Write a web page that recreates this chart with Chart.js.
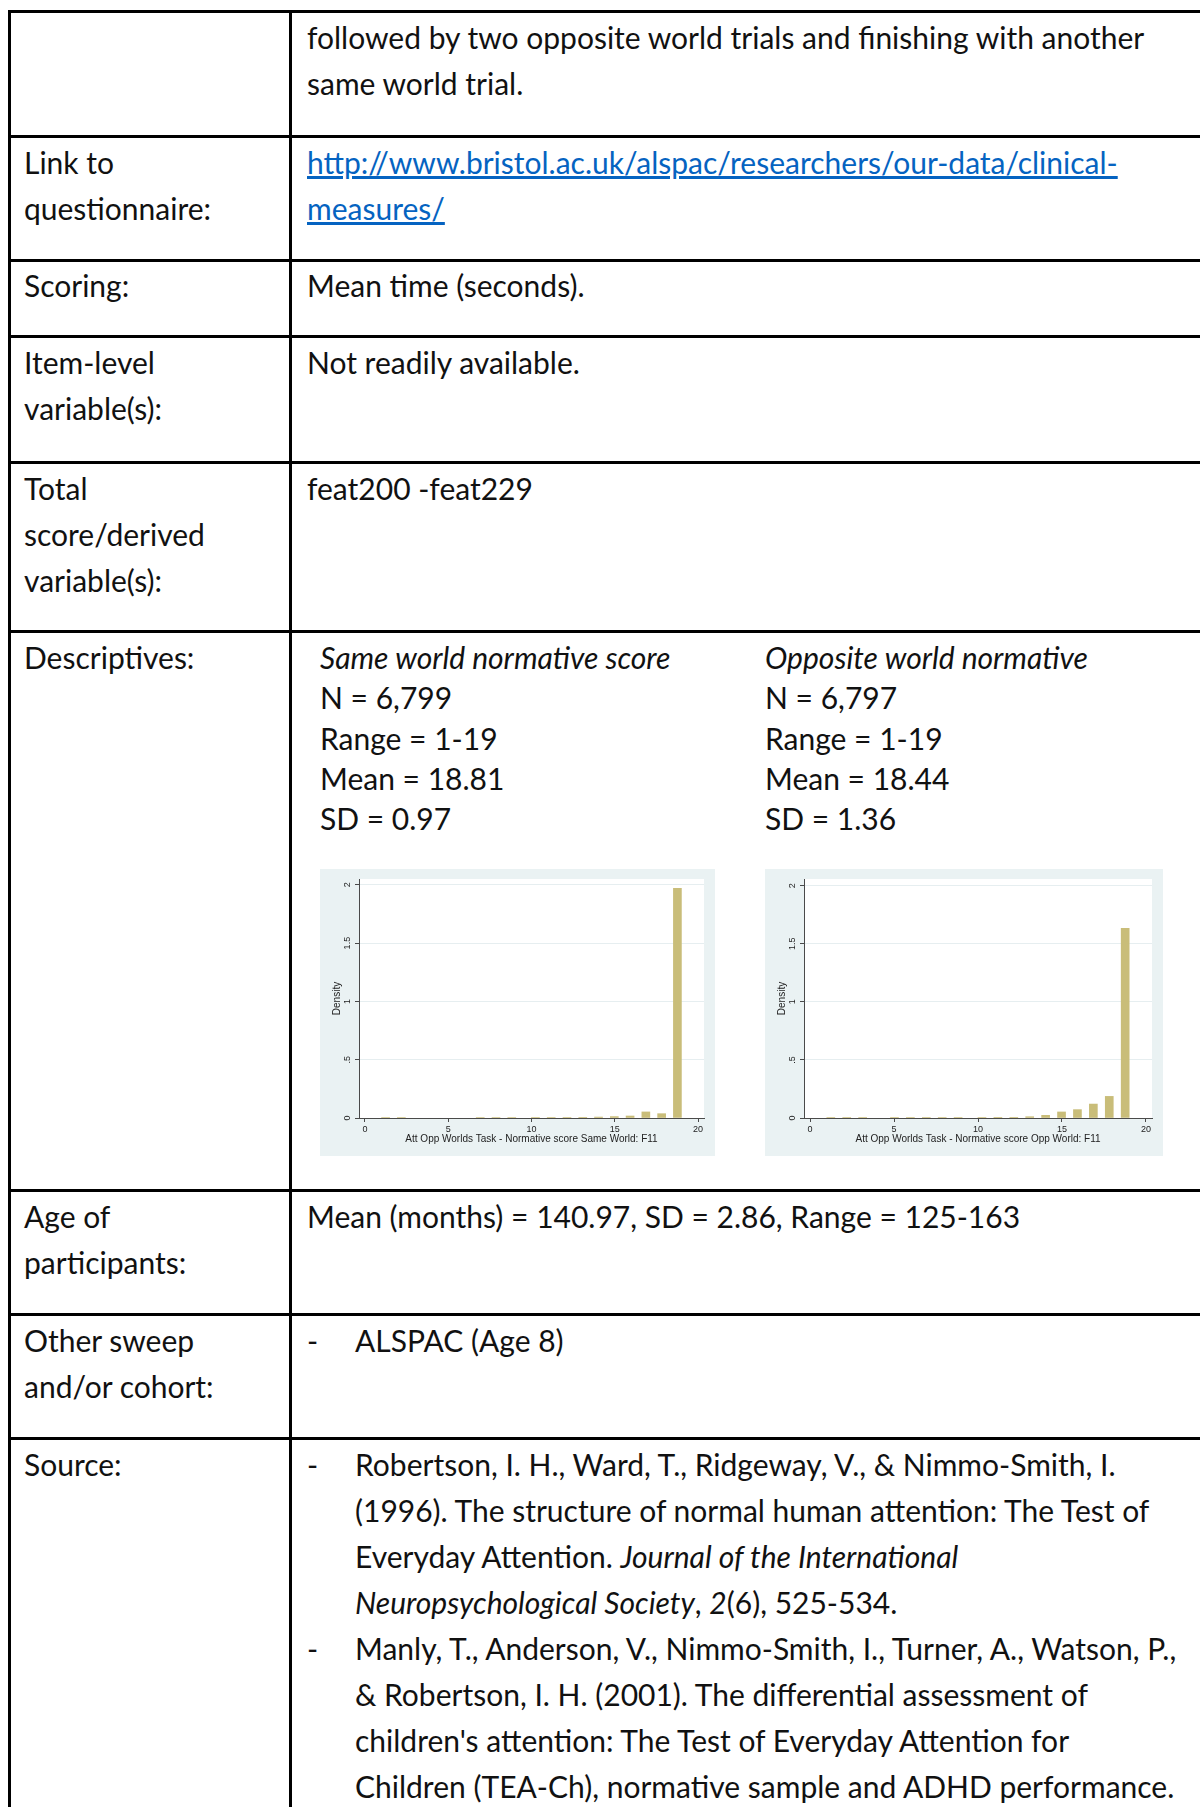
<!DOCTYPE html>
<html>
<head>
<meta charset="utf-8">
<script src="https://cdn.jsdelivr.net/npm/chart.js@4.4.1/dist/chart.umd.min.js"></script>
<style>
  html, body { margin: 0; padding: 0; background: #fff; }
  #page { position: relative; width: 1200px; height: 1807px; overflow: hidden; font-family: Lato, "Open Sans", sans-serif; font-size: 30px; color: #111; }
  .h { position: absolute; left: 8px; width: 1300px; height: 3px; background: #000; }
  .v { position: absolute; top: 10px; width: 3px; height: 1900px; background: #000; }
  .t { position: absolute; line-height: 46px; white-space: nowrap; }
  .l { left: 24px; }
  .r { left: 307px; }
  .d { position: absolute; line-height: 40.3px; white-space: nowrap; top: 637px; }
  a { color: #0563C1; text-decoration: underline; }
  .box { position: absolute; top: 869px; height: 287px; background: #eaf2f3; }
</style>
</head>
<body>
<div id="page">
  <div class="h" style="top:10px"></div>
  <div class="h" style="top:134.5px"></div>
  <div class="h" style="top:259px"></div>
  <div class="h" style="top:335px"></div>
  <div class="h" style="top:460.5px"></div>
  <div class="h" style="top:630px"></div>
  <div class="h" style="top:1189px"></div>
  <div class="h" style="top:1312.5px"></div>
  <div class="h" style="top:1437px"></div>
  <div class="v" style="left:8px"></div>
  <div class="v" style="left:289px"></div>

  <div class="t r" style="top:14px">followed by two opposite world trials and finishing with another<br>same world trial.</div>

  <div class="t l" style="top:138.5px">Link to<br>questionnaire:</div>
  <div class="t r" style="top:138.5px"><a>http://www.bristol.ac.uk/alspac/researchers/our-data/clinical-</a><br><a>measures/</a></div>

  <div class="t l" style="top:262px">Scoring:</div>
  <div class="t r" style="top:262px">Mean time (seconds).</div>

  <div class="t l" style="top:339px">Item-level<br>variable(s):</div>
  <div class="t r" style="top:339px">Not readily available.</div>

  <div class="t l" style="top:464.5px">Total<br>score/derived<br>variable(s):</div>
  <div class="t r" style="top:464.5px">feat200 -feat229</div>

  <div class="t l" style="top:634px">Descriptives:</div>
  <div class="d" style="left:320px"><i>Same world normative score</i><br>N = 6,799<br>Range = 1-19<br>Mean = 18.81<br>SD = 0.97</div>
  <div class="d" style="left:765px"><i>Opposite world normative</i><br>N = 6,797<br>Range = 1-19<br>Mean = 18.44<br>SD = 1.36</div>

  <div class="box" style="left:320px; width:395px"><canvas id="sameChart" width="395" height="287"></canvas></div>
  <div class="box" style="left:765px; width:398px"><canvas id="oppChart" width="398" height="287"></canvas></div>

  <div class="t l" style="top:1193px">Age of<br>participants:</div>
  <div class="t r" style="top:1193px">Mean (months) = 140.97, SD = 2.86, Range = 125-163</div>

  <div class="t l" style="top:1317px">Other sweep<br>and/or cohort:</div>
  <div class="t r" style="top:1317px">-</div>
  <div class="t" style="top:1317px; left:355px">ALSPAC (Age 8)</div>

  <div class="t l" style="top:1441px">Source:</div>
  <div class="t r" style="top:1441px">-<br><br><br><br>-</div>
  <div class="t" style="top:1441px; left:355px">Robertson, I. H., Ward, T., Ridgeway, V., &amp; Nimmo-Smith, I.<br>(1996). The structure of normal human attention: The Test of<br>Everyday Attention. <i>Journal of the International</i><br><i>Neuropsychological Society</i>, <i>2</i>(6), 525-534.<br>Manly, T., Anderson, V., Nimmo-Smith, I., Turner, A., Watson, P.,<br>&amp; Robertson, I. H. (2001). The differential assessment of<br>children's attention: The Test of Everyday Attention for<br>Children (TEA-Ch), normative sample and ADHD performance.</div>
</div>

<script>
// scores 1-19, density per score (0 = no bar)
const scores = [1, 2, 3, 4, 5, 6, 7, 8, 9, 10, 11, 12, 13, 14, 15, 16, 17, 18, 19];
const sameWorld = [0.004, 0.004, 0, 0, 0, 0, 0.004, 0.004, 0.004, 0.005, 0.005, 0.005, 0.006, 0.008, 0.012, 0.017, 0.052, 0.037, 1.971];
const oppWorld = [0.005, 0.005, 0.005, 0, 0.005, 0.005, 0.005, 0.005, 0.005, 0.005, 0.006, 0.006, 0.011, 0.023, 0.052, 0.072, 0.12, 0.186, 1.634];

const xTicks = [0, 5, 10, 15, 20];
const yTicks = [0, 0.5, 1, 1.5, 2];
const yTickLabels = ['0', '.5', '1', '1.5', '2'];

const sameTitle = 'Att Opp Worlds Task - Normative score Same World: F11';
const oppTitle = 'Att Opp Worlds Task - Normative score Opp World: F11';

// stata style histogram: 38 bins over 1..19
const nBins = 38;
const binWidth = (19 - 1) / nBins;
function binCenter(v) {
    let k = Math.floor((v - 1) / binWidth + 1e-9);
    if (k >= nBins) k = nBins - 1;
    return 1 + (k + 0.5) * binWidth;
}

const barColor = '#c9bd79';
const axisColor = '#4a4a4a';
const tickFont = { family: 'Liberation Sans, Arial, sans-serif', size: 9 };
const titleFont = { family: 'Liberation Sans, Arial, sans-serif', size: 10 };

const plotBg = {
    id: 'plotBg',
    beforeDraw(chart) {
        const a = chart.chartArea;
        chart.ctx.save();
        chart.ctx.fillStyle = '#ffffff';
        chart.ctx.fillRect(a.left, a.top, a.right - a.left, a.bottom - a.top);
        chart.ctx.restore();
    }
};

function makeHist(id, values, title, yMax) {
    const points = [];
    scores.forEach((s, i) => {
        if (values[i] > 0) points.push({ x: binCenter(s), y: values[i] });
    });

    new Chart(id, {
        type: 'bar',
        data: {
            datasets: [{
                data: points,
                backgroundColor: barColor,
                borderWidth: 0,
                barThickness: 8
            }]
        },
        options: {
            responsive: false,
            animation: false,
            layout: { padding: { top: 10, right: 11, left: 0, bottom: 0 } },
            plugins: { legend: { display: false }, tooltip: { enabled: false } },
            scales: {
                x: {
                    type: 'linear',
                    offset: false,
                    min: -0.36,
                    max: 20.36,
                    afterBuildTicks(scale) { scale.ticks = xTicks.map(v => ({ value: v })); },
                    afterFit(scale) { scale.height = 38; },
                    grid: { offset: false, drawOnChartArea: false, drawTicks: true, tickLength: 4, tickColor: axisColor },
                    border: { display: true, color: axisColor, width: 1 },
                    ticks: { font: tickFont, color: '#222', padding: 2, maxRotation: 0, autoSkip: false },
                    title: { display: true, text: title, font: titleFont, color: '#222', padding: { top: 0, bottom: 11 } }
                },
                y: {
                    min: 0,
                    max: yMax,
                    afterBuildTicks(scale) { scale.ticks = yTicks.map(v => ({ value: v })); },
                    afterFit(scale) { scale.width = 39; },
                    grid: { color: '#e6eef0', drawTicks: true, tickLength: 4, tickColor: axisColor },
                    border: { display: true, color: axisColor, width: 1 },
                    ticks: {
                        font: tickFont, color: '#222', padding: 1,
                        minRotation: 90, maxRotation: 90, crossAlign: 'center',
                        callback: (v) => yTickLabels[yTicks.indexOf(v)]
                    },
                    title: { display: true, text: 'Density', font: titleFont, color: '#222', padding: { top: 11, bottom: 0 } }
                }
            }
        },
        plugins: [plotBg]
    });
}

makeHist('sameChart', sameWorld, sameTitle, 2.05);
makeHist('oppChart', oppWorld, oppTitle, 2.058);
</script>
</body>
</html>
